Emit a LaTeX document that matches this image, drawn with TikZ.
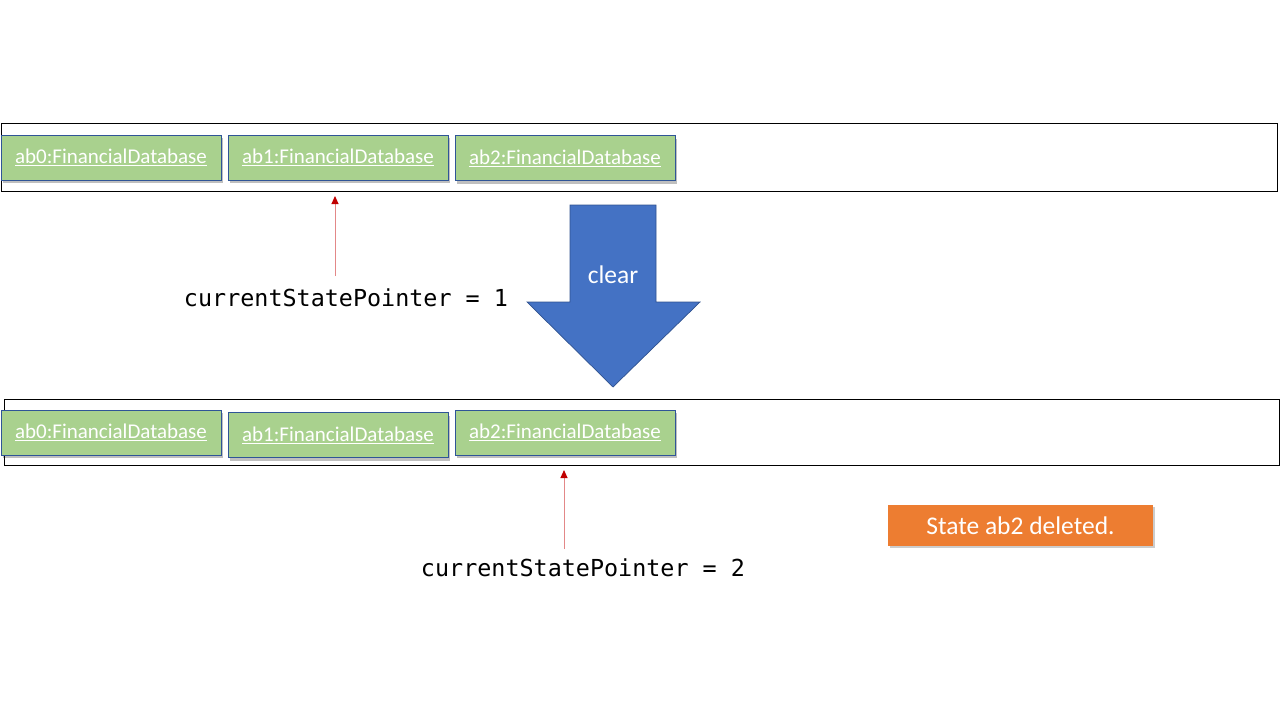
\documentclass[tikz,border=0pt]{standalone}
\usepackage{fontspec}
\setmainfont{Carlito}
\newfontfamily\monof{DejaVu Sans Mono}
\usetikzlibrary{shadows,arrows.meta}
\definecolor{boxgreen}{HTML}{A9D18E}
\definecolor{boxborder}{HTML}{2F5597}
\definecolor{blockblue}{HTML}{4472C4}
\definecolor{blockedge}{HTML}{2F528F}
\definecolor{notice}{HTML}{ED7D31}
\definecolor{ptrline}{HTML}{E38888}
\definecolor{ptrhead}{HTML}{C00000}
\tikzset{
  container/.style={draw=black, line width=1pt},
  dbbox/.style={draw=boxborder, line width=0.7pt, fill=boxgreen, minimum width=220pt, minimum height=45pt, inner sep=0pt,
    drop shadow={shadow xshift=2pt, shadow yshift=-3pt, fill=black, opacity=0.25}, font=\fontsize{21}{24}\selectfont, text=white},
  ptr/.style={draw=ptrline, line width=1pt, -{Triangle[length=8pt,width=7pt,color=ptrhead]}},
  ptrlabel/.style={font=\monof\fontsize{23.4}{26}\selectfont, text=black, inner sep=0pt},
  blockarrow/.style={draw=blockedge, line width=0.7pt, fill=blockblue},
  noticebox/.style={fill=notice, minimum width=265pt, minimum height=41pt, inner sep=0pt, text=white,
    font=\fontsize{25.5}{28}\selectfont, drop shadow={shadow xshift=1.5pt, shadow yshift=-2pt, fill=black, opacity=0.2}}
}
\begin{document}
\begin{tikzpicture}[x=1pt,y=-1pt]
\useasboundingbox (0,0) rectangle (1280,720);
% top row
\draw[container] (1,123) rectangle (1277,191);
\node[dbbox] (t0) at (111,157.5) {\underline{ab0:FinancialDatabase}};
\node[dbbox] (t1) at (338,157.5) {\underline{ab1:FinancialDatabase}};
\node[dbbox] (t2) at (565,158) {\underline{ab2:FinancialDatabase}};
\coordinate (p1top) at (335,196);
\coordinate (p1bot) at (335,276);
\node[ptrlabel] (l1) at (346,298) {currentStatePointer = 1};
\draw[ptr] (p1bot) -- (p1top);
% block arrow
\draw[blockarrow] (570,205) -- (656,205) -- (656,302) -- (700,302) -- (613,387) -- (527,302) -- (570,302) -- cycle;
\node[text=white, font=\fontsize{25.5}{28}\selectfont] (clr) at (613,275) {clear};
% bottom row
\draw[container] (4,399) rectangle (1279,465);
\node[dbbox] (b0) at (111,432.5) {\underline{ab0:FinancialDatabase}};
\node[dbbox] (b1) at (338,435) {\underline{ab1:FinancialDatabase}};
\node[dbbox] (b2) at (565,432.5) {\underline{ab2:FinancialDatabase}};
\coordinate (p2top) at (564,470);
\coordinate (p2bot) at (564,549);
\node[ptrlabel] (l2) at (583,568) {currentStatePointer = 2};
\draw[ptr] (p2bot) -- (p2top);
% notice
\node[noticebox] (note) at (1020.5,525.5) {State ab2 deleted.};
\end{tikzpicture}
\end{document}
